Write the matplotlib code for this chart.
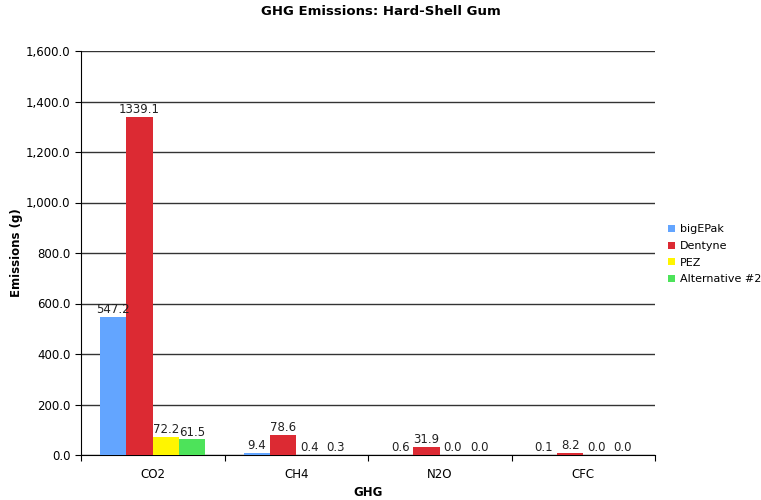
import matplotlib
matplotlib.use("Agg")
import matplotlib.pyplot as plt
import numpy as np

categories = ["CO2", "CH4", "N2O", "CFC"]
series_names = ["bigEPak", "Dentyne", "PEZ", "Alternative #2"]
bigepak = [547.2, 9.4, 0.6, 0.1]
dentyne = [1339.1, 78.6, 31.9, 8.2]
pez = [72.2, 0.4, 0.0, 0.0]
alt2 = [61.5, 0.3, 0.0, 0.0]
yticks = [0, 200, 400, 600, 800, 1000, 1200, 1400, 1600]

colors = ["#63A5FF", "#DC2A33", "#FFF500", "#4DE35A"]

plt.rcParams['font.family'] = ['DejaVu Sans']
fig = plt.figure(figsize=(7.61, 5.0), dpi=100)
ax = fig.add_axes([81/761, 1-455/500, (655-81)/761, (455-51)/500])

x = np.arange(len(categories)) + 0.5
w = 0.183
data = [bigepak, dentyne, pez, alt2]
for i, (name, vals, c) in enumerate(zip(series_names, data, colors)):
    pos = x + (i - 1.5) * w
    ax.bar(pos, vals, width=w, color=c, label=name, zorder=3)
    for p, v in zip(pos, vals):
        ax.text(p, v + 3, f"{v:.1f}", ha="center", va="bottom", fontsize=8.5, color="#222222", zorder=4)

ax.set_xlim(0, 4)
ax.set_ylim(0, 1600)
ax.set_yticks(yticks)
ax.set_yticklabels([f"{v:,.1f}" for v in yticks], fontsize=8.5)
ax.set_xticks([0, 1, 2, 3, 4])
ax.set_xticklabels([])
ax.set_xticks(x, minor=True)
ax.set_xticklabels(categories, minor=True, fontsize=8.5)
ax.tick_params(axis="x", which="minor", length=0, pad=9)
ax.tick_params(axis="x", which="major", length=4, direction="out")
ax.tick_params(axis="y", length=4, direction="out")
ax.grid(axis="y", color="#333333", linewidth=1.0, zorder=0)
for s in ["top", "right"]:
    ax.spines[s].set_visible(False)
ax.spines["left"].set_color("black")
ax.spines["bottom"].set_color("black")

ax.set_ylabel("Emissions (g)", fontsize=8.5, fontweight="bold")
ax.yaxis.set_label_coords((23 - 81) / 574, 0.5)
ax.set_xlabel("GHG", fontsize=8.5, fontweight="bold", labelpad=4)
fig.suptitle("GHG Emissions: Hard-Shell Gum", fontsize=9.5, fontweight="bold", y=0.99)

fig.legend(loc="upper left", bbox_to_anchor=(664/761, 1-220/500), frameon=False,
           fontsize=8, handlelength=0.6, handleheight=0.6, handletextpad=0.4,
           labelspacing=0.6, borderaxespad=0)

fig.savefig("out.png", dpi=100)
